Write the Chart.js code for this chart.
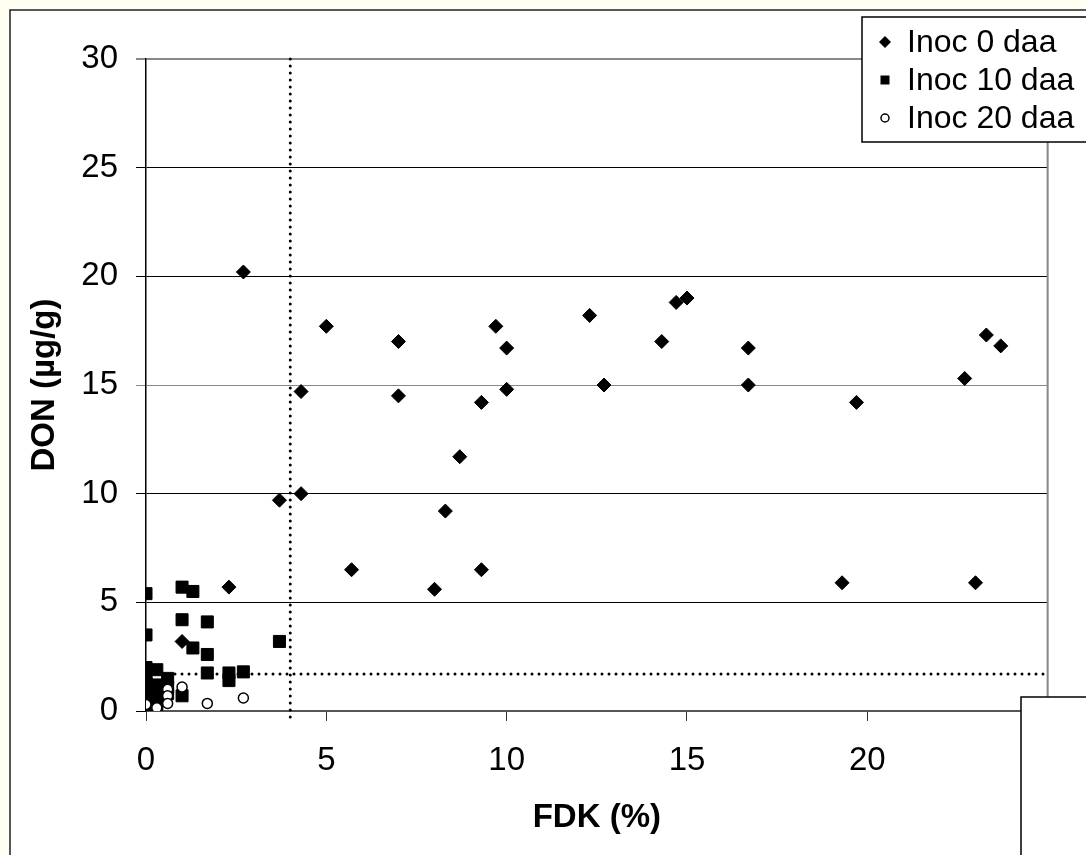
<!DOCTYPE html>
<html>
<head>
<meta charset="utf-8">
<script src="https://cdn.jsdelivr.net/npm/chart.js@4/dist/chart.umd.min.js"></script>
<style>
  html, body { margin: 0; padding: 0; background: #fffff2; }
  #wrap { width: 1086px; height: 855px; }
</style>
</head>
<body>
<div id="wrap"><canvas id="donChart" width="1086" height="855"></canvas></div>
<script>
const seriesNames = ['Inoc 0 daa', 'Inoc 10 daa', 'Inoc 20 daa'];

// Inoc 0 daa
const inoc0Fdk = [2.7, 5.0, 7.0, 9.7, 10.0, 4.3, 7.0, 9.3, 10.0, 8.7, 3.7, 4.3, 8.3, 5.7, 9.3, 2.3, 8.0, 1.0,
                  12.3, 14.7, 15.0, 14.3, 16.7, 12.7, 16.7, 19.7, 22.7, 23.3, 23.7, 19.3, 23.0];
const inoc0Don = [20.2, 17.7, 17.0, 17.7, 16.7, 14.7, 14.5, 14.2, 14.8, 11.7, 9.7, 10.0, 9.2, 6.5, 6.5, 5.7, 5.6, 3.2,
                  18.2, 18.8, 19.0, 17.0, 16.7, 15.0, 15.0, 14.2, 15.3, 17.3, 16.8, 5.9, 5.9];

// Inoc 10 daa
const inoc10Fdk = [0, 1.0, 1.3, 1.0, 1.7, 0, 1.3, 1.7, 3.7, 1.7, 2.3, 2.7, 2.3, 0.3, 0.6, 1.0,
                   0, 0, 0, 0, 0, 0, 0, 0.3, 0.3, 0.3, 0.6, 0.6];
const inoc10Don = [5.4, 5.7, 5.5, 4.2, 4.1, 3.5, 2.9, 2.6, 3.2, 1.75, 1.75, 1.8, 1.4, 1.9, 1.5, 0.7,
                   2.0, 1.6, 1.3, 1.0, 0.7, 0.4, 0.1, 1.2, 0.8, 0.3, 1.1, 0.8];

// Inoc 20 daa
const inoc20Fdk = [0.6, 0.6, 0.6, 1.0, 1.7, 2.7, 0.3, 0];
const inoc20Don = [1.0, 0.7, 0.35, 1.1, 0.35, 0.6, 0.15, 0.3];

const xTicks = [0, 5, 10, 15, 20, 25];
const yTicks = [0, 5, 10, 15, 20, 25, 30];
const fdkCutoff = 4;
const donCutoff = 1.7;

const toPoints = (xs, ys) => xs.map((x, i) => ({ x: x, y: ys[i] }));
const FONT = "'Liberation Sans', Arial, sans-serif";

// cream page, white chart panel
const framePlugin = {
  id: 'frame',
  beforeDraw(chart) {
    const ctx = chart.ctx;
    ctx.save();
    ctx.fillStyle = '#fffff2';
    ctx.fillRect(0, 0, chart.width, chart.height);
    ctx.fillStyle = '#ffffff';
    ctx.fillRect(10, 10, chart.width, chart.height);
    ctx.strokeStyle = '#222';
    ctx.lineWidth = 1.5;
    ctx.strokeRect(10, 10, chart.width + 20, chart.height + 20);
    ctx.restore();
  }
};

// dotted cutoff lines and right edge of the plot
const cutoffPlugin = {
  id: 'cutoffs',
  beforeDatasetsDraw(chart) {
    const ctx = chart.ctx;
    const { left, right, top, bottom } = chart.chartArea;
    const xs = chart.scales.x, ys = chart.scales.y;
    ctx.save();
    ctx.strokeStyle = '#888';
    ctx.lineWidth = 2;
    ctx.beginPath();
    ctx.moveTo(right, top);
    ctx.lineTo(right, bottom);
    ctx.stroke();

    ctx.strokeStyle = '#000';
    ctx.lineWidth = 3;
    ctx.lineCap = 'round';
    ctx.setLineDash([0, 7]);
    const vx = xs.getPixelForValue(fdkCutoff);
    ctx.beginPath();
    ctx.moveTo(vx, top);
    ctx.lineTo(vx, bottom + 8);
    ctx.stroke();
    const hy = ys.getPixelForValue(donCutoff);
    ctx.beginPath();
    ctx.moveTo(left + 8, hy);
    ctx.lineTo(right - 2, hy);
    ctx.stroke();
    ctx.restore();
  }
};

function drawMarker(ctx, style, x, y) {
  ctx.beginPath();
  if (style === 'rectRot') {
    ctx.moveTo(x - 6, y); ctx.lineTo(x, y - 6); ctx.lineTo(x + 6, y); ctx.lineTo(x, y + 6);
    ctx.closePath();
    ctx.fillStyle = '#000'; ctx.fill();
  } else if (style === 'rect') {
    ctx.rect(x - 4.5, y - 4.5, 9, 9);
    ctx.fillStyle = '#000'; ctx.fill();
  } else {
    ctx.arc(x, y, 4, 0, Math.PI * 2);
    ctx.fillStyle = '#fff'; ctx.fill();
    ctx.strokeStyle = '#000'; ctx.lineWidth = 1.5; ctx.stroke();
  }
}

// legend box in the top right corner and the blank box bottom right
const overlayPlugin = {
  id: 'overlay',
  afterDraw(chart) {
    const ctx = chart.ctx;
    ctx.save();
    ctx.fillStyle = '#fff';
    ctx.strokeStyle = '#000';
    ctx.lineWidth = 1.5;
    ctx.fillRect(1021, 697, 100, 200);
    ctx.strokeRect(1021, 697, 100, 200);

    ctx.fillRect(862, 17, 260, 125);
    ctx.strokeRect(862, 17, 260, 125);
    ctx.font = '32px ' + FONT;
    ctx.textBaseline = 'middle';
    ctx.textAlign = 'left';
    chart.data.datasets.forEach((ds, i) => {
      const cy = 42 + i * 38;
      drawMarker(ctx, ds.pointStyle, 885, cy);
      ctx.fillStyle = '#000';
      ctx.fillText(ds.label, 907, cy + 1);
    });
    ctx.restore();
  }
};

new Chart(document.getElementById('donChart').getContext('2d'), {
  type: 'scatter',
  data: {
    datasets: [
      {
        label: seriesNames[0],
        data: toPoints(inoc0Fdk, inoc0Don),
        pointStyle: 'rectRot',
        pointRadius: 7,
        backgroundColor: '#000',
        borderColor: '#000',
        borderWidth: 1,
        order: 2
      },
      {
        label: seriesNames[1],
        data: toPoints(inoc10Fdk, inoc10Don),
        pointStyle: 'rect',
        pointRadius: 8.5,
        backgroundColor: '#000',
        borderColor: '#000',
        borderWidth: 1,
        order: 1
      },
      {
        label: seriesNames[2],
        data: toPoints(inoc20Fdk, inoc20Don),
        pointStyle: 'circle',
        pointRadius: 5,
        backgroundColor: '#fff',
        borderColor: '#000',
        borderWidth: 1.5,
        order: 0
      }
    ]
  },
  options: {
    responsive: false,
    animation: false,
    events: [],
    layout: { padding: { top: 59, right: 22, left: 0, bottom: 0 } },
    plugins: {
      legend: { display: false },
      tooltip: { enabled: false }
    },
    scales: {
      x: {
        type: 'linear',
        min: 0,
        max: 25,
        afterBuildTicks: (s) => { s.ticks = xTicks.map(v => ({ value: v })); },
        afterFit: (s) => { s.height = 144; },
        grid: { drawOnChartArea: false, drawTicks: true, tickLength: 10, color: '#333', lineWidth: 1 },
        border: { color: '#555', width: 2 },
        ticks: { color: '#000', padding: 20, font: { family: FONT, size: 33 } },
        title: {
          display: true,
          text: 'FDK (%)',
          color: '#000',
          padding: { top: 0, bottom: 17 },
          font: { family: FONT, size: 33, weight: 'bold' }
        }
      },
      y: {
        type: 'linear',
        min: 0,
        max: 30,
        afterBuildTicks: (s) => { s.ticks = yTicks.map(v => ({ value: v })); },
        afterFit: (s) => { s.width = 146; },
        grid: {
          drawTicks: true,
          tickLength: 10,
          lineWidth: (c) => (c.tick && c.tick.value === 30 ? 2 : 1),
          color: (c) => (c.tick && (c.tick.value === 15 || c.tick.value === 30) ? '#888' : '#000')
        },
        border: { color: '#000', width: 1.5 },
        ticks: { color: '#000', padding: 18, font: { family: FONT, size: 33 } },
        title: {
          display: true,
          text: 'DON (µg/g)',
          color: '#000',
          padding: { top: 25, bottom: 0 },
          font: { family: FONT, size: 33, weight: 'bold' }
        }
      }
    }
  },
  plugins: [framePlugin, cutoffPlugin, overlayPlugin]
});
</script>
</body>
</html>
